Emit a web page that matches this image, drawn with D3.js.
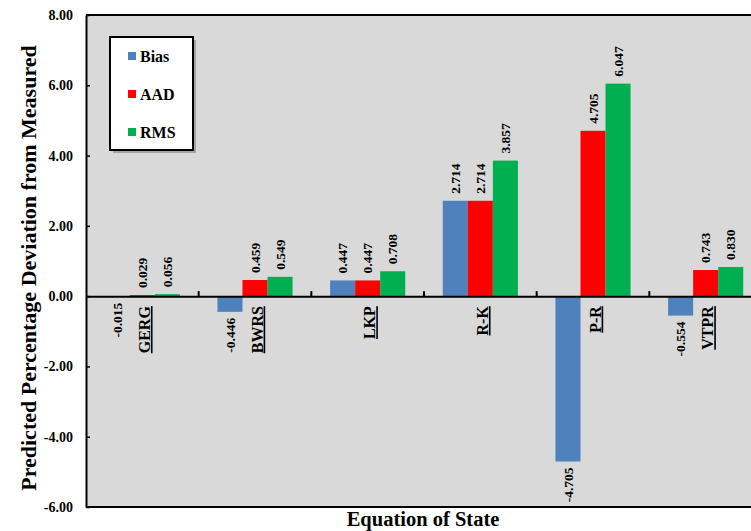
<!DOCTYPE html>
<html><head><meta charset="utf-8">
<script src="https://cdn.jsdelivr.net/npm/d3@7/dist/d3.min.js"></script>
<style>
body{margin:0;background:#fff;}
</style></head>
<body><svg id="c" width="751" height="531"></svg>
<script>
const categories = ["GERG","BWRS","LKP","R-K","P-R","VTPR"];
const seriesNames = ["Bias","AAD","RMS"];
const bias = [-0.015,-0.446,0.447,2.714,-4.705,-0.554];
const aad  = [0.029,0.459,0.447,2.714,4.705,0.743];
const rms  = [0.056,0.549,0.708,3.857,6.047,0.830];
const yTicks = [-6,-4,-2,0,2,4,6,8];
const colors = ["#4f81bd","#ff0000","#00b050"];

const FONT = "'Liberation Serif', Tinos, 'Times New Roman', Times, 'DejaVu Serif', serif";
const svg = d3.select("#c");
const L=86, R=762, T=15, B=507;
const x0 = d3.scaleBand().domain(categories).range([L,R]).padding(0);
const x1 = d3.scaleBand().domain(seriesNames).range([0,x0.bandwidth()]).paddingInner(0).paddingOuter(0.75);
const y = d3.scaleLinear().domain([-6,8]).range([B,T]);
const color = d3.scaleOrdinal().domain(seriesNames).range(colors);
const values = {Bias:bias, AAD:aad, RMS:rms};
const hy = s => s.replace("\u2212","-");

svg.append("rect").attr("x",L).attr("y",T).attr("width",R-L).attr("height",B-T).attr("fill","#d9d9d9");

const data = [];
categories.forEach((c,i)=>seriesNames.forEach(s=>data.push({c,s,v:values[s][i]})));
svg.append("g").selectAll("rect").data(data).join("rect")
  .attr("x",d=>x0(d.c)+x1(d.s))
  .attr("width",x1.bandwidth())
  .attr("y",d=>y(Math.max(0,d.v)))
  .attr("height",d=>Math.abs(y(d.v)-y(0)))
  .attr("fill",d=>color(d.s));

const fmt = d3.format(".3f");
svg.append("g").selectAll("text").data(data).join("text")
  .attr("transform",d=>{
    const xc = x0(d.c)+x1(d.s)+x1.bandwidth()/2;
    const yy = d.v>=0 ? y(d.v)-7 : y(d.v)+6;
    return `translate(${xc},${yy}) rotate(-90)`;
  })
  .attr("text-anchor",d=>d.v>=0?"start":"end")
  .attr("dy","0.35em")
  .style("font-family",FONT).style("font-weight","bold")
  .attr("font-size",13.5)
  .attr("fill","#000")
  .text(d=>hy(fmt(d.v)));

const yAxis = d3.axisLeft(y).tickValues(yTicks).tickFormat(d=>hy(d3.format(".2f")(d))).tickSizeInner(-4).tickSizeOuter(0).tickPadding(13);
const gy = svg.append("g").attr("transform",`translate(${L},0)`).call(yAxis);
gy.select(".domain").attr("stroke","#000").attr("stroke-width",2);
gy.selectAll(".tick line").attr("stroke","#000").attr("stroke-width",1.5);
gy.selectAll(".tick text").attr("font-size",14).style("font-family",FONT).style("font-weight","bold").attr("fill","#000");

svg.append("line").attr("x1",L).attr("x2",R).attr("y1",T).attr("y2",T).attr("stroke","#000").attr("stroke-width",2);
svg.append("line").attr("x1",L).attr("x2",R).attr("y1",B).attr("y2",B).attr("stroke","#000").attr("stroke-width",2);

const xAxis = d3.axisTop(x0).tickSize(0).tickFormat("");
const gx = svg.append("g").attr("transform",`translate(0,${y(0)})`).call(xAxis);
gx.select(".domain").attr("stroke","#000").attr("stroke-width",2);
svg.append("g").selectAll("line").data(categories.slice(1)).join("line")
  .attr("x1",d=>x0(d)).attr("x2",d=>x0(d))
  .attr("y1",y(0)).attr("y2",y(0)-5)
  .attr("stroke","#000").attr("stroke-width",2);

svg.append("g").selectAll("text").data(categories).join("text")
  .attr("transform",d=>`translate(${x0(d)+x0.bandwidth()/2+2},${y(0)+10}) rotate(-90)`)
  .attr("text-anchor","end").attr("dy","0.35em")
  .style("font-family",FONT).style("font-weight","bold")
  .attr("font-size",16).attr("text-decoration","underline")
  .text(d=>d);

svg.append("text").attr("transform",`translate(28,268) rotate(-90)`)
  .attr("text-anchor","middle").attr("dy","0.35em")
  .style("font-family",FONT).style("font-weight","bold").attr("font-size",22)
  .text("Predicted Percentage Deviation from Measured");
svg.append("text").attr("x",423).attr("y",526).attr("text-anchor","middle")
  .style("font-family",FONT).style("font-weight","bold").attr("font-size",20.5)
  .text("Equation of State");

const lg = svg.append("g").attr("transform","translate(110,37)");
lg.append("rect").attr("x",3).attr("y",3).attr("width",83).attr("height",113).attr("fill","#7f7f7f").attr("opacity",0.6);
lg.append("rect").attr("width",83).attr("height",113).attr("fill","#fff").attr("stroke","#000").attr("stroke-width",2);
const li = lg.selectAll("g.item").data(seriesNames).join("g").attr("class","item")
  .attr("transform",(d,i)=>`translate(18,${19+i*38})`);
li.append("rect").attr("x",0).attr("y",-4).attr("width",8).attr("height",8).attr("fill",d=>color(d));
li.append("text").attr("x",12).attr("dy","0.35em")
  .style("font-family",FONT).style("font-weight","bold").attr("font-size",16).text(d=>d);
</script></body></html>
